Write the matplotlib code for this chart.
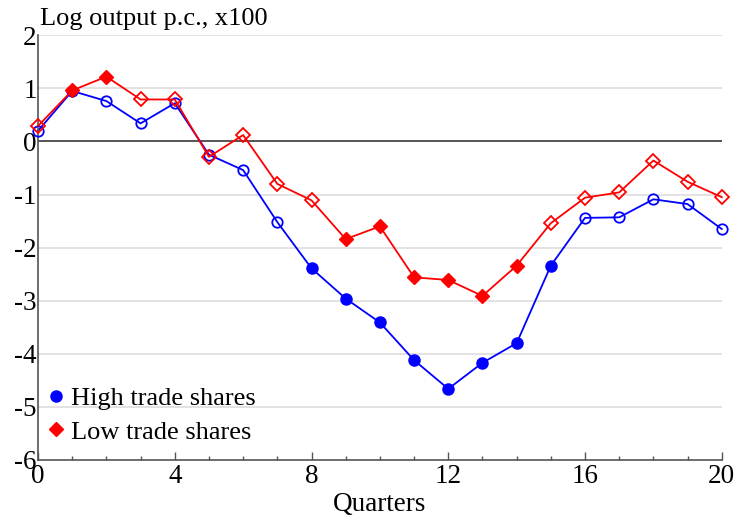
import numpy as np
import matplotlib.pyplot as plt
from matplotlib.ticker import MultipleLocator

plt.rcParams['font.family'] = ['Liberation Serif', 'DejaVu Serif']
plt.rcParams['axes.unicode_minus'] = False

quarters = np.arange(21)
high = np.array([0.20, 0.95, 0.76, 0.34, 0.72, -0.25, -0.54, -1.52, -2.39, -2.96,
                 -3.41, -4.12, -4.66, -4.17, -3.80, -2.34, -1.44, -1.43, -1.09, -1.18, -1.65])
low = np.array([0.29, 0.96, 1.22, 0.79, 0.79, -0.29, 0.12, -0.80, -1.11, -1.84,
                -1.60, -2.56, -2.61, -2.91, -2.34, -1.54, -1.06, -0.96, -0.36, -0.76, -1.05])
# filled marker = significant
high_sig = np.array([0, 0, 0, 0, 0, 0, 0, 0, 1, 1, 1, 1, 1, 1, 1, 1, 0, 0, 0, 0, 0], bool)
low_sig = np.array([0, 1, 1, 0, 0, 0, 0, 0, 0, 1, 1, 1, 1, 1, 1, 0, 0, 0, 0, 0, 0], bool)

blue = '#0000ff'
red = '#ff0000'

fig = plt.figure(figsize=(7.38, 5.18), dpi=100)
ax = fig.add_axes([0.0515, 0.112, 0.9265, 0.820])

for v in range(-5, 3):
    if v != 0:
        ax.axhline(v, color='#dddddd', lw=1.2, zorder=0)
ax.axhline(0, color='#555555', lw=1.4, zorder=1)

ax.plot(quarters, high, color=blue, lw=1.3, zorder=2, clip_on=False)
ax.plot(quarters[~high_sig], high[~high_sig], 'o', ms=7.5, mfc='none', mec=blue, mew=1.3,
        zorder=3, clip_on=False)
ax.plot(quarters[high_sig], high[high_sig], 'o', ms=8, color=blue, zorder=3, clip_on=False)

ax.plot(quarters, low, color=red, lw=1.3, zorder=4, clip_on=False)
ax.plot(quarters[~low_sig], low[~low_sig], 'D', ms=7, mfc='none', mec=red, mew=1.3,
        zorder=5, clip_on=False)
ax.plot(quarters[low_sig], low[low_sig], 'D', ms=7.5, color=red, zorder=5, clip_on=False)

# legend handles
ax.plot([], [], 'o', ms=8, color=blue, label='High trade shares')
ax.plot([], [], 'D', ms=7, color=red, label='Low trade shares')
ax.legend(loc='lower left', bbox_to_anchor=(-0.012, -0.005), frameon=False, fontsize=19,
          handlelength=0.6, handletextpad=0.28, labelspacing=0.38, borderaxespad=0.3)

ax.set_xlim(0, 20)
ax.set_ylim(-6, 2)
ax.xaxis.set_major_locator(MultipleLocator(4))
ax.xaxis.set_minor_locator(MultipleLocator(1))
ax.yaxis.set_major_locator(MultipleLocator(1))
ax.tick_params(axis='x', which='major', direction='in', length=6, width=1, color='#555555',
               labelsize=19.5, pad=3)
ax.tick_params(axis='x', which='minor', direction='in', length=3, width=1, color='#555555')
ax.tick_params(axis='y', length=0, labelsize=19.5, pad=1)

for s in ['top', 'right']:
    ax.spines[s].set_visible(False)
for s in ['left', 'bottom']:
    ax.spines[s].set_color('#555555')
    ax.spines[s].set_linewidth(1.2)

ax.text(0.003, 1.012, 'Log output p.c., x100', transform=ax.transAxes, fontsize=19,
        ha='left', va='bottom')
ax.set_xlabel('Quarters', fontsize=19.5, labelpad=2)

fig.savefig('out.png', dpi=100)
